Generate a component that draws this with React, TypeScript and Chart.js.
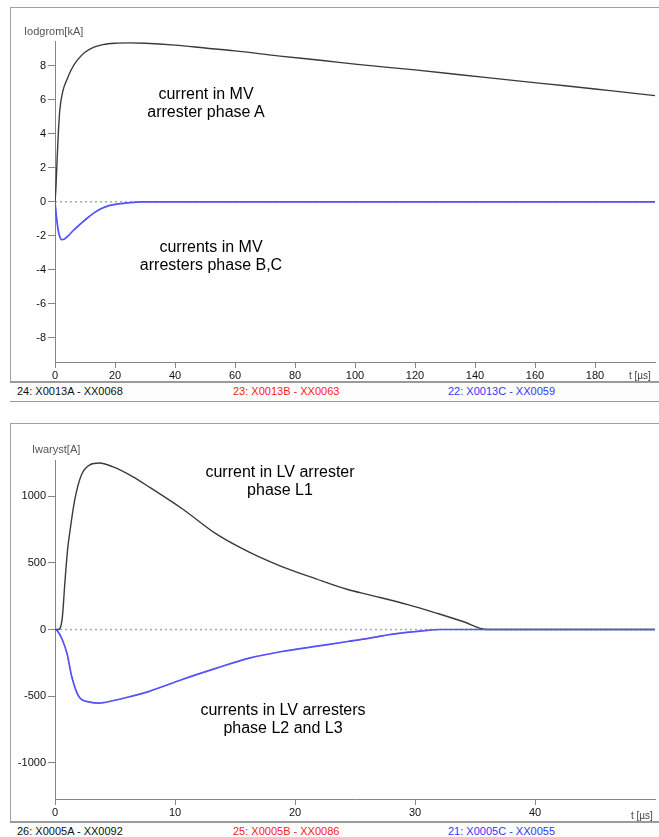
import React, { useEffect, useRef } from "react";
import { Chart, registerables } from "chart.js";

Chart.register(...registerables);

const FONT = '"Liberation Sans", Arial, Helvetica, sans-serif';

// ---------- Top chart (MV arresters), t in µs, I in kA ----------
const mvTimeA = [0, 0.3, 0.7, 1.1, 1.6, 2.6, 4, 5.5, 7.5, 10, 13, 16, 20, 25, 30, 40, 50, 60, 75, 90, 100, 120, 135, 155, 170, 185, 200];
const mvCurrentA = [0, 0.8, 2.5, 4.0, 5.4, 6.5, 7.2, 7.8, 8.35, 8.8, 9.1, 9.25, 9.33, 9.35, 9.33, 9.22, 9.05, 8.88, 8.57, 8.3, 8.1, 7.76, 7.48, 7.1, 6.83, 6.54, 6.25];
const mvTimeBC = [0, 0.5, 1, 1.6, 2.2, 3, 4.5, 6, 8.5, 10.8, 13, 15.3, 18, 21, 25, 29, 200];
const mvCurrentB = [0, -0.9, -1.6, -2.05, -2.22, -2.2, -1.98, -1.7, -1.3, -0.95, -0.65, -0.4, -0.22, -0.12, -0.04, 0, 0];
const mvCurrentC = [0, -0.9, -1.6, -2.05, -2.22, -2.2, -1.98, -1.7, -1.3, -0.95, -0.65, -0.4, -0.22, -0.12, -0.04, 0, 0];
const mvYRange = [-9.42, 9.42];
const mvYTicks = [-8, -6, -4, -2, 0, 2, 4, 6, 8];
const mvXRange = [0, 200];
const mvXTicks = [0, 20, 40, 60, 80, 100, 120, 140, 160, 180];

// ---------- Bottom chart (LV arresters), t in µs, I in A ----------
const lvTimeL1 = [0, 0.25, 0.6, 0.83, 1.05, 1.24, 1.66, 2.2, 2.9, 3.7, 4.8, 6.5, 7.9, 10.6, 13.4, 16.1, 18.9, 21.7, 24.4, 26.1, 29.4, 31.9, 34, 36, 50];
const lvCurrentL1 = [0, 0, 82, 360, 600, 734, 980, 1160, 1236, 1250, 1222, 1146, 1066, 906, 719, 584, 472, 382, 300, 262, 187, 120, 60, 0, 0];
const lvTimeL23 = [0, 0.2, 0.6, 1.0, 1.4, 2.0, 2.9, 3.7, 4.8, 6.2, 7.86, 10.6, 13.4, 16.1, 18.9, 21.7, 24.4, 26.1, 28, 30.8, 32.1, 50];
const lvCurrentL2 = [0, -10, -75, -180, -355, -505, -545, -552, -535, -505, -464, -375, -292, -217, -165, -127, -90, -67, -37, -8, 0, 0];
const lvCurrentL3 = [0, -10, -75, -180, -355, -505, -545, -552, -535, -505, -464, -375, -292, -217, -165, -127, -90, -67, -37, -8, 0, 0];
const lvYRange = [-1272, 1272];
const lvYTicks = [-1000, -500, 0, 500, 1000];
const lvXRange = [0, 50];
const lvXTicks = [0, 10, 20, 30, 40];

const mvLegend = ["24: X0013A - XX0068", "23: X0013B - XX0063", "22: X0013C - XX0059"];
const lvLegend = ["26: X0005A - XX0092", "25: X0005B - XX0086", "21: X0005C - XX0055"];

const pts = (xs: number[], ys: number[]) => xs.map((x, i) => ({ x, y: ys[i] }));

type ChartProps = {
  top: number;
  height: number;
  padTop: number;
  xHeight: number;
  xRange: number[];
  xTicks: number[];
  yRange: number[];
  yTicks: number[];
  seriesA: { x: number; y: number }[];
  seriesB: { x: number; y: number }[];
  seriesC: { x: number; y: number }[];
};

function PlotCanvas(p: ChartProps) {
  const ref = useRef<HTMLCanvasElement | null>(null);
  useEffect(() => {
    if (!ref.current) return;
    const line = (data: any, color: string, width: number, order: number, dash?: number[]) => ({
      data,
      borderColor: color,
      borderWidth: width,
      pointRadius: 0,
      fill: false,
      cubicInterpolationMode: "monotone" as const,
      borderDash: dash || [],
      order,
    });
    const chart = new Chart(ref.current, {
      type: "line",
      data: {
        datasets: [
          line(p.seriesC, "#5252ff", 1.7, 0),
          line(p.seriesB, "#ff3030", 0.5, 1),
          line(p.seriesA, "#3a3a3a", 1.4, 2),
          line([{ x: p.xRange[0], y: 0 }, { x: p.xRange[1], y: 0 }], "#a8a8a8", 1.5, 3, [2, 3]),
        ] as any,
      },
      options: {
        responsive: false,
        animation: false,
        devicePixelRatio: 1,
        parsing: false as any,
        layout: { padding: { left: 0, right: 4, top: p.padTop, bottom: 0 } },
        plugins: { legend: { display: false }, tooltip: { enabled: false }, title: { display: false } },
        scales: {
          x: {
            type: "linear",
            min: p.xRange[0],
            max: p.xRange[1],
            border: { display: true, color: "#858585", width: 1 },
            grid: { display: true, drawOnChartArea: false, drawTicks: true, tickLength: 6, color: "#858585" },
            ticks: {
              autoSkip: false,
              maxRotation: 0,
              color: "#111",
              padding: 1,
              font: { family: FONT, size: 11 },
              callback: (v: any) => String(v),
            },
            afterBuildTicks: (s: any) => {
              s.ticks = p.xTicks.map((v) => ({ value: v }));
            },
            afterFit: (s: any) => {
              s.height = p.xHeight;
            },
          },
          y: {
            type: "linear",
            min: p.yRange[0],
            max: p.yRange[1],
            border: { display: true, color: "#858585", width: 1 },
            grid: { display: true, drawOnChartArea: false, drawTicks: true, tickLength: 7, color: "#858585" },
            ticks: {
              autoSkip: false,
              color: "#111",
              padding: 2,
              font: { family: FONT, size: 11 },
              callback: (v: any) => String(v),
            },
            afterBuildTicks: (s: any) => {
              s.ticks = p.yTicks.map((v) => ({ value: v }));
            },
            afterFit: (s: any) => {
              s.width = 55;
            },
          },
        },
      } as any,
    });
    return () => chart.destroy();
  }, []);
  return (
    <canvas
      ref={ref}
      width={659}
      height={p.height}
      style={{ position: "absolute", left: 0, top: p.top, width: 659, height: p.height }}
    />
  );
}

const abs = (s: React.CSSProperties): React.CSSProperties => ({ position: "absolute", ...s });

function Note({ cx, top, lines }: { cx: number; top: number; lines: string[] }) {
  return (
    <div
      style={abs({
        left: cx - 150,
        top,
        width: 300,
        textAlign: "center",
        fontFamily: FONT,
        fontSize: 16,
        lineHeight: "18px",
        color: "#000",
      })}
    >
      {lines.map((l, i) => (
        <div key={i}>{l}</div>
      ))}
    </div>
  );
}

function LegendStrip({ top, items }: { top: number; items: string[] }) {
  const colors = ["#111", "#ff2020", "#3535ff"];
  const xs = [17, 233, 448];
  return (
    <div
      style={abs({
        left: 10,
        top,
        width: 680,
        height: 18,
        borderTop: "2px solid #9a9a9a",
        borderBottom: "1px solid #9a9a9a",
        background: "#fdfdfd",
      })}
    >
      {items.map((t, i) => (
        <div
          key={i}
          style={abs({
            left: xs[i] - 10,
            top: 2,
            fontFamily: FONT,
            fontSize: 11,
            lineHeight: "13px",
            color: colors[i],
            whiteSpace: "nowrap",
          })}
        >
          {t}
        </div>
      ))}
    </div>
  );
}

export default function App() {
  const smallText: React.CSSProperties = { fontFamily: FONT, fontSize: 11, lineHeight: "13px", color: "#555", whiteSpace: "nowrap" };
  return (
    <div style={abs({ left: 0, top: 0, width: 659, height: 837, overflow: "hidden", background: "#fff" })}>
      <div style={abs({ left: 10, top: 7, width: 700, height: 380, borderLeft: "1px solid #a0a0a0", borderTop: "1px solid #a0a0a0" })} />
      <div style={abs({ left: 10, top: 423, width: 700, height: 420, borderLeft: "1px solid #a0a0a0", borderTop: "1px solid #a0a0a0" })} />

      <PlotCanvas
        top={0}
        height={381}
        padTop={41.7}
        xHeight={19}
        xRange={mvXRange}
        xTicks={mvXTicks}
        yRange={mvYRange}
        yTicks={mvYTicks}
        seriesA={pts(mvTimeA, mvCurrentA)}
        seriesB={pts(mvTimeBC, mvCurrentB)}
        seriesC={pts(mvTimeBC, mvCurrentC)}
      />
      <PlotCanvas
        top={400}
        height={421}
        padTop={60}
        xHeight={22}
        xRange={lvXRange}
        xTicks={lvXTicks}
        yRange={lvYRange}
        yTicks={lvYTicks}
        seriesA={pts(lvTimeL1, lvCurrentL1)}
        seriesB={pts(lvTimeL23, lvCurrentL2)}
        seriesC={pts(lvTimeL23, lvCurrentL3)}
      />

      <LegendStrip top={381} items={mvLegend} />
      <LegendStrip top={821} items={lvLegend} />

      <div style={abs({ ...smallText, left: 24, top: 25 })}>Iodgrom[kA]</div>
      <div style={abs({ ...smallText, left: 32, top: 443 })}>Iwaryst[A]</div>
      <div style={abs({ ...smallText, left: 629, top: 369, fontSize: 10, color: "#444" })}>t [µs]</div>
      <div style={abs({ ...smallText, left: 631, top: 809, fontSize: 10, color: "#444" })}>t [µs]</div>

      <Note cx={206} top={85} lines={["current in MV", "arrester phase A"]} />
      <Note cx={211} top={238} lines={["currents in MV", "arresters phase B,C"]} />
      <Note cx={280} top={463} lines={["current in LV arrester", "phase L1"]} />
      <Note cx={283} top={701} lines={["currents in LV arresters", "phase L2 and L3"]} />
    </div>
  );
}
